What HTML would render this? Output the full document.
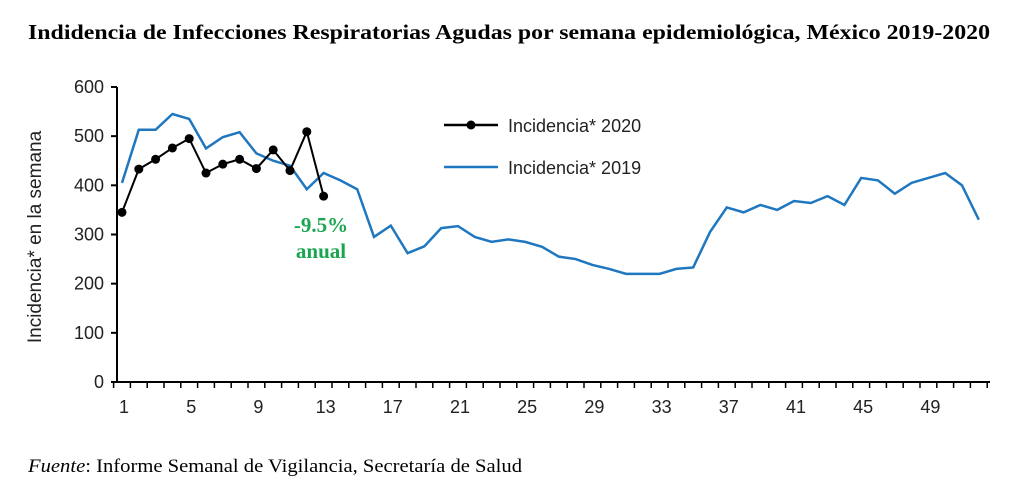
<!DOCTYPE html>
<html><head><meta charset="utf-8"><style>
body{margin:0;background:#fff;width:1011px;height:498px;overflow:hidden}
svg text{font-family:"Liberation Sans",sans-serif}
</style></head><body>
<svg width="1011" height="498">
<text x="28" y="39" textLength="962" lengthAdjust="spacingAndGlyphs" style="font-family:'Liberation Serif',serif;font-weight:bold;font-size:21px">Indidencia de Infecciones Respiratorias Agudas por semana epidemiológica, México 2019-2020</text>
<g id="axes"></g>
<g id="marks"></g>
<text transform="translate(41,237) rotate(-90)" text-anchor="middle" font-size="19" fill="#222">Incidencia* en la semana</text>
<line x1="444" y1="125" x2="498" y2="125" stroke="#000" stroke-width="2.5"/>
<circle cx="471" cy="125" r="4.5"/>
<text x="508" y="132" font-size="18" fill="#222">Incidencia* 2020</text>
<line x1="444" y1="167" x2="498" y2="167" stroke="#1f77c0" stroke-width="2.5"/>
<text x="508" y="174" font-size="18" fill="#222">Incidencia* 2019</text>
<text x="321" y="232" text-anchor="middle" style="font-family:'Liberation Serif',serif;font-weight:bold;font-size:21px" fill="#1aa650">-9.5%</text>
<text x="321" y="258" text-anchor="middle" style="font-family:'Liberation Serif',serif;font-weight:bold;font-size:21px" fill="#1aa650">anual</text>
<text x="28" y="472" textLength="494" lengthAdjust="spacingAndGlyphs" style="font-family:'Liberation Serif',serif;font-size:19px"><tspan font-style="italic">Fuente</tspan>: Informe Semanal de Vigilancia, Secretaría de Salud</text>
</svg>
<script>
const weeks2019=[1,2,3,4,5,6,7,8,9,10,11,12,13,14,15,16,17,18,19,20,21,22,23,24,25,26,27,28,29,30,31,32,33,34,35,36,37,38,39,40,41,42,43,44,45,46,47,48,49,50,51,52];
const values2019=[405,513,513,545,535,475,498,508,465,450,440,392,425,410,392,295,318,262,276,313,317,295,285,290,285,275,255,250,238,230,220,220,220,230,233,305,355,345,360,350,368,364,378,360,415,410,383,405,415,425,400,330];
const values2020=[345,433,453,476,495,425,443,453,434,472,430,509,378];
const yTicks=[0,100,200,300,400,500,600];
const xTickLabels=[1,5,9,13,17,21,25,29,33,37,41,45,49];
const NS="http://www.w3.org/2000/svg";
const X=w=>122+(w-1)*16.8, Y=v=>382-v*0.4917;
const axes=document.getElementById('axes'), marks=document.getElementById('marks');
function mk(tag,a,p){const e=document.createElementNS(NS,tag);for(const k in a)e.setAttribute(k,a[k]);p.appendChild(e);return e;}
let e=mk('line',{x1:117,y1:Y(600),x2:117,y2:382,stroke:'#000','stroke-width':2},axes);


e=mk('line',{x1:117,y1:382,x2:990,y2:382,stroke:'#000','stroke-width':2},axes);


yTicks.forEach(v=>{mk('line',{x1:111,x2:117,y1:Y(v),y2:Y(v),stroke:'#000','stroke-width':2},axes);
const t=mk('text',{x:104,y:Y(v)+6,'text-anchor':'end','font-size':18,fill:'#222'},axes);t.textContent=v;

});
for(let w=1;w<=53;w++){mk('line',{x1:X(w)-8.4,x2:X(w)-8.4,y1:382,y2:388,stroke:'#000','stroke-width':1.5},axes);}
xTickLabels.forEach(w=>{const t=mk('text',{x:X(w)+2,y:413,'text-anchor':'middle','font-size':18,fill:'#222'},axes);t.textContent=w;

});
e=mk('polyline',{points:values2019.map((v,i)=>X(weeks2019[i])+','+Y(v)).join(' '),fill:'none',stroke:'#1f77c0','stroke-width':2.5},marks);


e=mk('polyline',{points:values2020.map((v,i)=>X(i+1)+','+Y(v)).join(' '),fill:'none',stroke:'#000','stroke-width':2},marks);


values2020.forEach((v,i)=>{const c=mk('circle',{cx:X(i+1),cy:Y(v),r:4.5},marks);

});
</script>
</body></html>
